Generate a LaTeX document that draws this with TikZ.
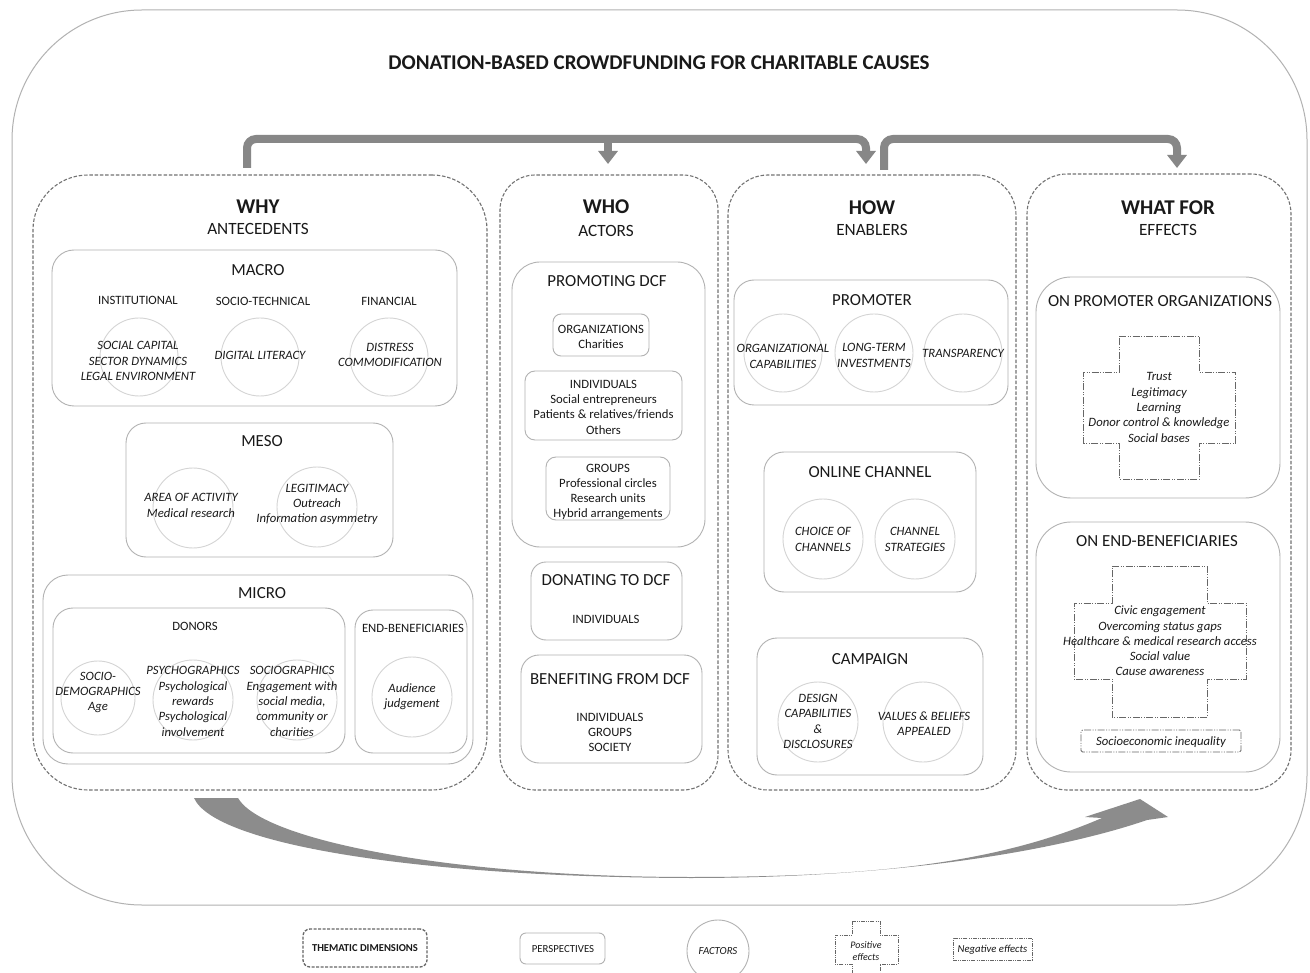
\documentclass[tikz,border=0pt]{standalone}
\usepackage{fontspec}
\setmainfont{Carlito}
\usetikzlibrary{arrows.meta}
\begin{document}
\begin{tikzpicture}[x=1pt,y=-1pt,
  every node/.style={text=black!90},
  txt/.style={inner sep=0pt, align=center},
  ttl/.style={txt,font=\bfseries\fontsize{21}{25}\selectfont},
  hd/.style={txt,font=\bfseries\fontsize{21}{25}\selectfont},
  subhd/.style={txt,font=\fontsize{17.2}{20}\selectfont},
  sec/.style={txt,font=\fontsize{16.9}{20}\selectfont},
  lbl/.style={txt,font=\fontsize{12.7}{15.3}\selectfont},
  fac/.style={txt,font=\itshape\fontsize{12.7}{15.3}\selectfont},
  leg/.style={txt,font=\fontsize{10.8}{12}\selectfont},
  frame/.style={draw=black!30, line width=1pt, inner sep=0pt},
  panel/.style={draw=black!55, line width=1.1pt, dash pattern=on 3.5pt off 1.8pt, inner sep=0pt},
  pbox/.style={draw=black!30, line width=0.9pt, inner sep=0pt},
  fcirc/.style={circle, draw=black!17, line width=0.9pt, inner sep=0pt},
  crossline/.style={draw=black!60, line width=0.9pt, dash pattern=on 7pt off 1.5pt on 1pt off 1.5pt on 1pt off 1.5pt},
  arrowband/.style={draw=black!47, line width=8pt, -{Triangle[width=19pt,length=13pt]}}
]
\useasboundingbox (0,0) rectangle (1310,973);
\fill[white] (0,0) rectangle (1310,973);

% outer frame
\node[frame, rounded corners=130pt, minimum width=1295pt, minimum height=895pt] (outer) at (659.5,457.5) {};
\node[ttl] (title) at (659,63) {DONATION-BASED CROWDFUNDING FOR CHARITABLE CAUSES};

% panels
\node[panel, rounded corners=55pt, minimum width=454pt, minimum height=615pt] (why) at (260,482.5) {};
\node[panel, rounded corners=35pt, minimum width=218pt, minimum height=615pt] (who) at (609,482.5) {};
\node[panel, rounded corners=40pt, minimum width=288pt, minimum height=615pt] (how) at (872,482.5) {};
\node[panel, rounded corners=40pt, minimum width=264pt, minimum height=616pt] (whatfor) at (1159,482) {};

% top arrows
\coordinate (a1s) at (247,168);
\coordinate (a1m) at (608,164);
\coordinate (a1e) at (866,164);
\coordinate (a2s) at (884,170);
\coordinate (a2e) at (1177,168);
\draw[arrowband, rounded corners=9pt] (a1s) |- (a1e |- 0,139) -- (a1e);
\draw[arrowband] (a1m |- 0,139) -- (a1m);
\draw[arrowband, rounded corners=9pt] (a2s) |- (a2e |- 0,139) -- (a2e);

% headers
\node[hd] (whyh) at (258,207) {WHY};
\node[subhd] (whys) at (258,229) {ANTECEDENTS};
\node[hd] (whoh) at (606,207) {WHO};
\node[subhd] (whos) at (606,231) {ACTORS};
\node[hd] (howh) at (872,208) {HOW};
\node[subhd] (hows) at (872,230) {ENABLERS};
\node[hd] (wfh) at (1168,208) {WHAT FOR};
\node[subhd] (wfs) at (1168,230) {EFFECTS};

% ---------- WHY ----------
\node[pbox, rounded corners=22pt, minimum width=405pt, minimum height=156pt] (macro) at (254.5,328) {};
\node[sec] (macrot) at (258,270) {MACRO};
\node[lbl] (inst) at (138,300) {INSTITUTIONAL};
\node[lbl] (soct) at (263,301) {SOCIO-TECHNICAL};
\node[lbl] (fin) at (389,301) {FINANCIAL};
\node[fcirc, minimum size=78pt] (c1) at (139,357) {};
\node[fcirc, minimum size=78pt] (c2) at (260,357) {};
\node[fcirc, minimum size=78pt] (c3) at (389,357) {};
\node[fac] (t1) at (138,361) {SOCIAL CAPITAL\\SECTOR DYNAMICS\\LEGAL ENVIRONMENT};
\node[fac] (t2) at (260,355) {DIGITAL LITERACY};
\node[fac] (t3) at (390,355) {DISTRESS\\COMMODIFICATION};

\node[pbox, rounded corners=20pt, minimum width=267pt, minimum height=134pt] (meso) at (259.5,490) {};
\node[sec] (mesot) at (262,441) {MESO};
\node[fcirc, minimum size=80pt] (c4) at (193,508) {};
\node[fcirc, minimum size=80pt] (c5) at (317,507) {};
\node[fac] (t4) at (191,505.5) {AREA OF ACTIVITY\\Medical research};
\node[fac] (t5) at (317,504.5) {LEGITIMACY\\Outreach\\Information asymmetry};

\node[pbox, rounded corners=25pt, minimum width=430pt, minimum height=189pt] (micro) at (258,669.5) {};
\node[sec] (microt) at (262,593) {MICRO};
\node[pbox, rounded corners=20pt, minimum width=292pt, minimum height=145pt] (donors) at (199,680.5) {};
\node[pbox, rounded corners=18pt, minimum width=112pt, minimum height=143pt] (endb) at (411,681.5) {};
\node[lbl] (donorst) at (195,626) {DONORS};
\node[lbl] (endbt) at (413,628) {END-BENEFICIARIES};
\node[fcirc, minimum size=74pt] (c6) at (98,698) {};
\node[fcirc, minimum size=80pt] (c7) at (193,700) {};
\node[fcirc, minimum size=80pt] (c8) at (297,700) {};
\node[fcirc, minimum size=80pt] (c9) at (412,697) {};
\node[fac] (t6) at (98,692.5) {SOCIO-\\DEMOGRAPHICS\\Age};
\node[fac] (t7) at (193,701.5) {PSYCHOGRAPHICS\\Psychological\\rewards\\Psychological\\involvement};
\node[fac] (t8) at (292,701.5) {SOCIOGRAPHICS\\Engagement with\\social media,\\community or\\charities};
\node[fac] (t9) at (412,697) {Audience\\judgement};

% ---------- WHO ----------
\node[pbox, rounded corners=28pt, minimum width=193pt, minimum height=285pt] (prom) at (608.5,404.5) {};
\node[sec] (promt) at (607,281) {PROMOTING DCF};
\node[pbox, rounded corners=8pt, minimum width=96pt, minimum height=42pt] (orgb) at (601,335) {};
\node[lbl] (orgt) at (601,337) {ORGANIZATIONS\\Charities};
\node[pbox, rounded corners=10pt, minimum width=157pt, minimum height=69pt] (indb) at (603.5,405.5) {};
\node[lbl] (indt) at (603.5,407) {INDIVIDUALS\\Social entrepreneurs\\Patients \& relatives/friends\\Others};
\node[pbox, rounded corners=10pt, minimum width=124pt, minimum height=63pt] (grpb) at (608,488.5) {};
\node[lbl] (grpt) at (608,492) {GROUPS\\Professional circles\\Research units\\Hybrid arrangements};
\node[pbox, rounded corners=15pt, minimum width=151pt, minimum height=78pt] (don) at (606.5,601) {};
\node[sec] (dont) at (606,580) {DONATING TO DCF};
\node[lbl] (donind) at (606,619) {INDIVIDUALS};
\node[pbox, rounded corners=18pt, minimum width=181pt, minimum height=108pt] (ben) at (611.5,709) {};
\node[sec] (bent) at (610,679) {BENEFITING FROM DCF};
\node[lbl] (benl) at (610,732.5) {INDIVIDUALS\\GROUPS\\SOCIETY};

% ---------- HOW ----------
\node[pbox, rounded corners=20pt, minimum width=274pt, minimum height=125pt] (promoter) at (871,342.5) {};
\node[sec] (promotert) at (872,300) {PROMOTER};
\node[fcirc, minimum size=78pt] (c10) at (783,353) {};
\node[fcirc, minimum size=78pt] (c11) at (874,353) {};
\node[fcirc, minimum size=78pt] (c12) at (963,353) {};
\node[fac] (t10) at (783,356.5) {ORGANIZATIONAL\\CAPABILITIES};
\node[fac] (t11) at (874,355.5) {LONG-TERM\\INVESTMENTS};
\node[fac] (t12) at (963,353) {TRANSPARENCY};

\node[pbox, rounded corners=20pt, minimum width=212pt, minimum height=140pt] (online) at (870,522) {};
\node[sec] (onlinet) at (870,472) {ONLINE CHANNEL};
\node[fcirc, minimum size=80pt] (c13) at (823,539) {};
\node[fcirc, minimum size=80pt] (c14) at (915,539) {};
\node[fac] (t13) at (823,539.5) {CHOICE OF\\CHANNELS};
\node[fac] (t14) at (915,539.5) {CHANNEL\\STRATEGIES};

\node[pbox, rounded corners=20pt, minimum width=226pt, minimum height=137pt] (camp) at (870,706.5) {};
\node[sec] (campt) at (870,659) {CAMPAIGN};
\node[fcirc, minimum size=80pt] (c15) at (818,722) {};
\node[fcirc, minimum size=80pt] (c16) at (923,722) {};
\node[fac] (t15) at (818,721.5) {DESIGN\\CAPABILITIES\\\&\\DISCLOSURES};
\node[fac] (t16) at (924,723.5) {VALUES \& BELIEFS\\APPEALED};

% ---------- WHAT FOR ----------
\node[pbox, rounded corners=35pt, minimum width=244pt, minimum height=221pt] (onprom) at (1158,387.5) {};
\node[sec] (onpromt) at (1160,301) {ON PROMOTER ORGANIZATIONS};
\draw[crossline] (1119,336) -- (1199,336) -- (1199,372) -- (1235,372) -- (1235,443) -- (1199,443) -- (1199,479) -- (1119,479) -- (1119,443) -- (1083,443) -- (1083,372) -- (1119,372) -- cycle;
\node[fac] (pos1) at (1159,407.5) {Trust\\Legitimacy\\Learning\\Donor control \& knowledge\\Social bases};

\node[pbox, rounded corners=35pt, minimum width=244pt, minimum height=250pt] (onend) at (1158,647) {};
\node[sec] (onendt) at (1157,541) {ON END-BENEFICIARIES};
\draw[crossline] (1112,566) -- (1207,566) -- (1207,603) -- (1246,603) -- (1246,679) -- (1207,679) -- (1207,717) -- (1112,717) -- (1112,679) -- (1074,679) -- (1074,603) -- (1112,603) -- cycle;
\node[fac] (pos2) at (1160,641) {Civic engagement\\Overcoming status gaps\\Healthcare \& medical research access\\Social value\\Cause awareness};
\node[crossline, rounded corners=1.5pt, minimum width=160pt, minimum height=22pt, inner sep=0pt] (negb) at (1161,741) {};
\node[fac] (negt) at (1161,742) {Socioeconomic inequality};

% bottom curved arrow
\coordinate (btip) at (1140,799);
\fill[black!45] (194,798) .. controls (215,845) and (420,877) .. (690,878)
  .. controls (900,878) and (1060,850) .. (1147,820) -- (1168,817) -- (btip) -- (1085,817) -- (1102,818)
  .. controls (1000,862) and (880,877) .. (690,877)
  .. controls (450,877) and (262,840) .. (238,798) -- cycle;

% legend
\node[draw=black!60, line width=1.3pt, dash pattern=on 3pt off 1.5pt, rounded corners=7pt, minimum width=124pt, minimum height=38pt, inner sep=0pt] (legtd) at (365,948) {};
\node[leg, font=\bfseries\fontsize{10.6}{12}\selectfont] (legtdt) at (365,948) {THEMATIC DIMENSIONS};
\node[pbox, rounded corners=6pt, minimum width=85pt, minimum height=31pt] (legp) at (562.5,948.5) {};
\node[leg] (legpt) at (563,949) {PERSPECTIVES};
\node[circle, draw=black!30, line width=0.9pt, minimum size=62pt, inner sep=0pt] (legf) at (718,951) {};
\node[leg, font=\itshape\fontsize{10.8}{12}\selectfont] (legft) at (718,951) {FACTORS};
\draw[crossline, dash pattern=on 4pt off 1.2pt on 0.8pt off 1.2pt on 0.8pt off 1.2pt] (852,921) -- (880,921) -- (880,935) -- (898,935) -- (898,964) -- (880,964) -- (880,975) -- (852,975) -- (852,964) -- (835,964) -- (835,935) -- (852,935) -- cycle;
\node[leg, font=\itshape\fontsize{10}{12.5}\selectfont] (legpos) at (866,951) {Positive\\effects};
\node[crossline, dash pattern=on 4pt off 1.2pt on 0.8pt off 1.2pt on 0.8pt off 1.2pt, minimum width=79pt, minimum height=22pt, inner sep=0pt] (legn) at (992.5,949) {};
\node[leg, font=\itshape\fontsize{10.7}{12}\selectfont] (legnt) at (992.5,950) {Negative effects};
\end{tikzpicture}
\end{document}
